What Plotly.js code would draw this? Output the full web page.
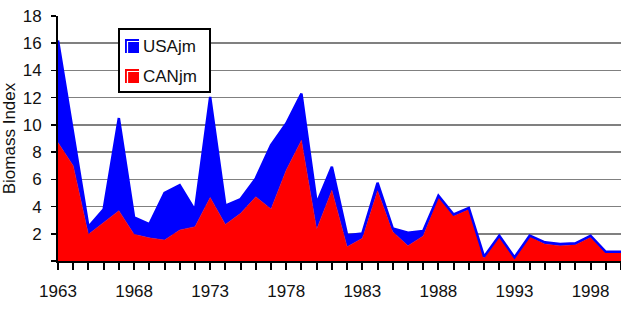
<!DOCTYPE html>
<html>
<head>
<meta charset="utf-8">
<script src="https://cdn.plot.ly/plotly-3.0.1.min.js"></script>
<style>html,body{margin:0;padding:0;background:#fff;}#chart{width:621px;height:309px;}</style>
</head>
<body>
<div id="chart"></div>
<script>
const years = [1963,1964,1965,1966,1967,1968,1969,1970,1971,1972,1973,1974,1975,1976,1977,1978,1979,1980,1981,1982,1983,1984,1985,1986,1987,1988,1989,1990,1991,1992,1993,1994,1995,1996,1997,1998,1999,2000];
const canjm = [8.7,7.0,1.96,2.8,3.7,1.96,1.7,1.54,2.28,2.52,4.67,2.69,3.5,4.72,3.82,6.68,8.88,2.33,5.2,1.05,1.67,5.16,2.15,1.12,1.84,4.7,3.3,3.8,0.2,1.8,0.2,1.8,1.25,1.12,1.2,1.75,0.6,0.6];
const totalIndex = [16.2,9.2,2.52,3.8,10.5,3.2,2.7,5.0,5.58,3.74,12.06,4.06,4.55,6.07,8.52,10.1,12.3,4.24,6.92,1.9,2.03,5.75,2.4,2.08,2.2,4.8,3.42,3.9,0.32,1.86,0.27,1.86,1.37,1.25,1.3,1.86,0.68,0.68];
const usajm = totalIndex.map((t,i)=>Math.max(0.05, +(t - canjm[i]).toFixed(2)));
const seriesNames = ['USAjm','CANjm'];
const seriesColors = ['#0000FF','#FF0000'];
const yTickVals = [0,2,4,6,8,10,12,14,16,18];
const yTickText = ['','2','4','6','8','10','12','14','16','18'];
const xTickVals = [1963,1968,1973,1978,1983,1988,1993,1998];

const W = 621, H = 309, M = {l:58, r:0, t:16, b:48};
const PW = W - M.l - M.r, PH = H - M.t - M.b;
const px = x => (x - M.l) / PW;          // pixel -> paper x
const py = y => (H - M.b - y) / PH;      // pixel -> paper y

const font = {family:'"Liberation Sans", Arial, sans-serif', size:17, color:'#111'};

const traces = [
  {x:years, y:canjm, name:seriesNames[1], type:'scatter', mode:'lines', stackgroup:'one',
   fillcolor:seriesColors[1], line:{color:seriesColors[1], width:0.5}, showlegend:false},
  {x:years, y:usajm, name:seriesNames[0], type:'scatter', mode:'lines', stackgroup:'one',
   fillcolor:seriesColors[0], line:{color:seriesColors[0], width:2.5}, showlegend:false}
];

// legend box drawn by hand (Excel style)
const shapes = [
  {type:'rect', xref:'paper', yref:'paper', x0:px(119), x1:px(210), y0:py(29), y1:py(92),
   fillcolor:'#fff', line:{color:'#000', width:2}, layer:'above'}
];
const annotations = [];
const rows = [46, 76];
seriesNames.forEach((nm, i) => {
  const cy = rows[i];
  shapes.push({type:'rect', xref:'paper', yref:'paper', x0:px(125), x1:px(139), y0:py(cy-7), y1:py(cy+7),
    fillcolor:seriesColors[i], line:{width:0}, layer:'above'});
  shapes.push({type:'path', xref:'paper', yref:'paper', layer:'above',
    path:`M${px(127.5)},${py(cy+7)} L${px(127.5)},${py(cy-4.5)} L${px(139)},${py(cy-4.5)}`,
    line:{color:'#fff', width:1.2}});
  annotations.push({xref:'paper', yref:'paper', x:px(141), y:py(cy), xanchor:'left', yanchor:'middle',
    text:nm, showarrow:false, font:font});
});

const layout = {
  width:W, height:H, margin:M,
  paper_bgcolor:'#fff', plot_bgcolor:'#fff',
  font:font, showlegend:false,
  shapes:shapes, annotations:annotations,
  xaxis:{type:'linear', range:[1963,2000], tickvals:xTickVals, ticktext:xTickVals.map(String),
    ticks:'outside', ticklen:7, tickwidth:2, tickcolor:'#000',
    minor:{tickvals:years, ticks:'outside', ticklen:7, tickwidth:2, tickcolor:'#000', showgrid:false},
    showline:true, linecolor:'#000', linewidth:2, showgrid:false, zeroline:false,
    tickfont:font, ticklabelstandoff:7},
  yaxis:{range:[0,18], tickvals:yTickVals, ticktext:yTickText,
    ticks:'outside', ticklen:5, tickwidth:1.5, tickcolor:'#000',
    showline:true, linecolor:'#000', linewidth:2,
    showgrid:true, gridcolor:'#808080', gridwidth:1.5, zeroline:false,
    tickfont:font, ticklabelstandoff:6,
    title:{text:'Biomass Index', font:font, standoff:4}}
};
Plotly.newPlot('chart', traces, layout, {displayModeBar:false, staticPlot:true});
</script>
</body>
</html>
